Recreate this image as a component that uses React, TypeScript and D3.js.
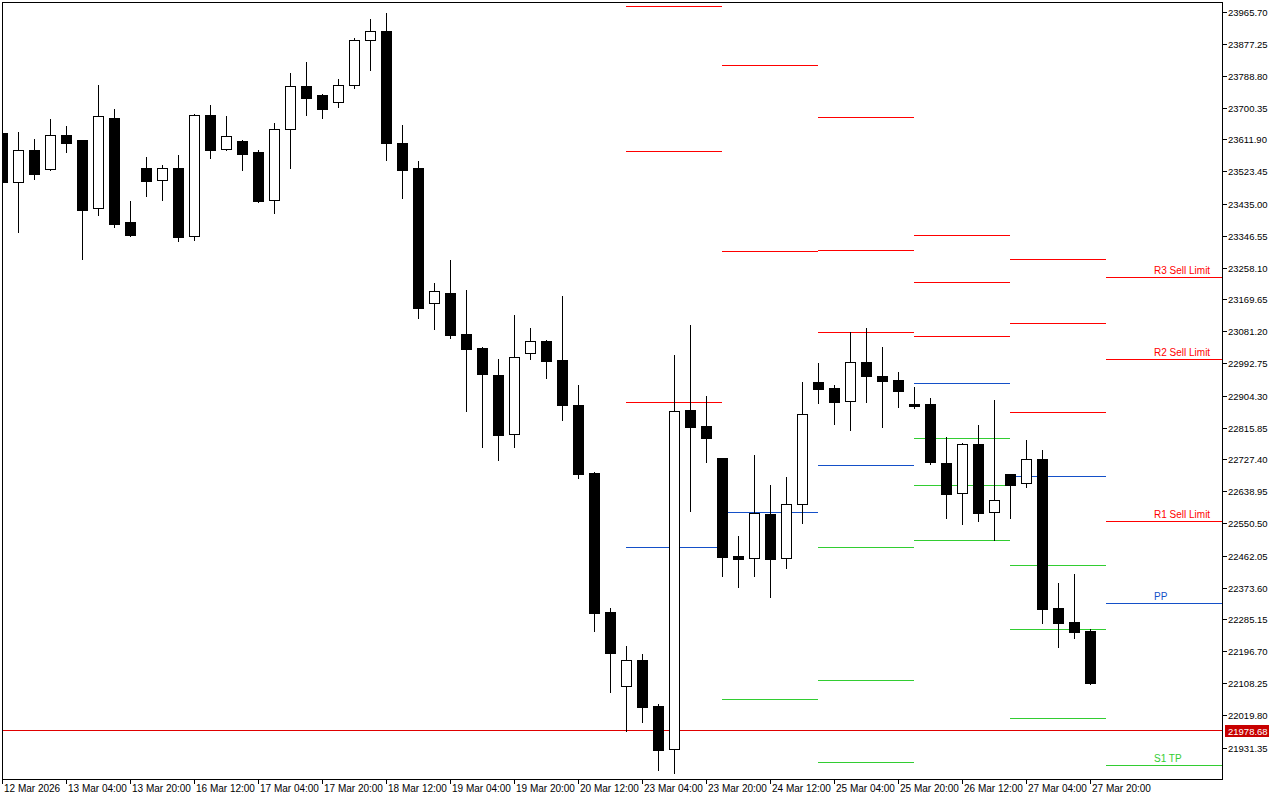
import React from "react";
import * as d3 from "d3";

// ---- data (H4 candles, 12 Mar 2026 12:00 -> 27 Mar 2026 20:00) ----
const opens = [
  23628.5, 23493.1, 23581.5, 23529.0, 23623.0, 23609.2, 23421.2, 23672.7, 23382.5, 23531.8,
  23498.6, 23531.8, 23343.8, 23681.0, 23584.3, 23606.4, 23576.0, 23443.3, 23639.6, 23758.4,
  23733.6, 23714.2, 23761.2, 23885.6, 23910.5, 23603.6, 23534.5, 23158.6, 23186.3, 23073.0,
  23034.3, 22959.6, 22796.6, 23020.4, 23053.6, 23001.1, 22876.7, 22688.8, 22304.6, 22100.0,
  22171.9, 22044.8, 21925.9, 22862.9, 22818.7, 22730.2, 22459.4, 22453.9, 22575.4, 22453.9,
  22603.1, 22940.3, 22923.7, 22887.8, 22995.6, 22956.9, 22945.8, 22879.5, 22879.5, 22716.4,
  22633.5, 22768.9, 22581.0, 22686.0, 22661.1, 22727.4, 22315.6, 22276.9, 22252.1,
];
const highs = [
  23636.8, 23634.0, 23611.9, 23667.2, 23647.9, 23611.0, 23761.2, 23694.9, 23440.6, 23562.2,
  23540.1, 23567.7, 23683.0, 23705.9, 23675.5, 23609.2, 23581.5, 23656.2, 23794.4, 23824.8,
  23736.3, 23777.8, 23891.1, 23943.6, 23960.2, 23650.6, 23551.1, 23213.9, 23277.5, 23194.6,
  23037.0, 23003.9, 23125.5, 23089.5, 23056.4, 23178.0, 22932.0, 22691.5, 22315.6, 22210.6,
  22188.5, 22050.3, 23014.9, 23097.8, 22901.6, 22731.0, 22514.6, 22738.5, 22655.6, 22677.7,
  22940.3, 22992.8, 22932.0, 23078.5, 23089.5, 23037.0, 22967.9, 22926.5, 22896.1, 22788.3,
  22771.7, 22821.4, 22890.5, 22687.0, 22780.0, 22752.3, 22384.7, 22409.6, 22257.6,
];
const lows = [
  23484.8, 23357.6, 23501.4, 23526.3, 23576.0, 23280.3, 23401.9, 23368.7, 23345.0, 23454.4,
  23443.3, 23330.0, 23332.8, 23559.4, 23583.0, 23526.3, 23438.0, 23407.4, 23531.8, 23681.0,
  23670.0, 23700.4, 23752.9, 23802.7, 23553.9, 23448.9, 23117.2, 23086.8, 23061.9, 22860.1,
  22760.6, 22724.7, 22760.6, 23003.9, 22951.3, 22835.3, 22674.9, 22252.1, 22083.4, 21975.7,
  22000.5, 21867.9, 21859.6, 22583.7, 22719.2, 22404.1, 22373.7, 22404.1, 22346.0, 22426.2,
  22550.6, 22882.2, 22824.2, 22807.6, 22885.0, 22815.9, 22871.2, 22868.4, 22713.6, 22564.4,
  22547.8, 22556.1, 22503.6, 22564.4, 22650.1, 22274.2, 22207.9, 22232.7, 22105.5,
];
const closes = [
  23493.1, 23581.5, 23515.2, 23623.0, 23603.6, 23415.7, 23675.5, 23377.0, 23346.6, 23495.9,
  23531.8, 23341.1, 23681.0, 23581.5, 23620.2, 23573.2, 23440.6, 23639.6, 23758.4, 23725.3,
  23694.9, 23761.2, 23888.3, 23910.5, 23600.9, 23526.3, 23144.8, 23191.8, 23070.2, 23031.5,
  22962.4, 22793.8, 23009.4, 23053.6, 22998.3, 22876.7, 22686.0, 22301.8, 22191.2, 22171.9,
  22042.0, 21923.1, 22860.1, 22815.9, 22785.5, 22456.6, 22451.1, 22578.2, 22451.1, 22603.1,
  22851.8, 22920.9, 22885.0, 22995.6, 22956.9, 22943.1, 22915.4, 22873.9, 22719.2, 22630.7,
  22768.9, 22578.2, 22614.1, 22655.6, 22727.4, 22312.9, 22274.2, 22249.3, 22108.3,
];

// time axis labels, one every 4 bars
const timeLabels = [
  "12 Mar 2026", "13 Mar 04:00", "13 Mar 20:00", "16 Mar 12:00", "17 Mar 04:00", "17 Mar 20:00",
  "18 Mar 12:00", "19 Mar 04:00", "19 Mar 20:00", "20 Mar 12:00", "23 Mar 04:00", "23 Mar 20:00",
  "24 Mar 12:00", "25 Mar 04:00", "25 Mar 20:00", "26 Mar 12:00", "27 Mar 04:00", "27 Mar 20:00",
];
const labelEvery = 4;

const priceTicks = [
  "23965.70", "23877.25", "23788.80", "23700.35", "23611.90", "23523.45", "23435.00", "23346.55",
  "23258.10", "23169.65", "23081.20", "22992.75", "22904.30", "22815.85", "22727.40", "22638.95",
  "22550.50", "22462.05", "22373.60", "22285.15", "22196.70", "22108.25", "22019.80", "21931.35",
];

// first bar index of each trading day (20 Mar .. 27 Mar, then next day)
const dayStarts = [33, 39, 45, 51, 57, 63, 69];
const barsPerDay = 6;
const levelTags = ["R3 Sell Limit", "R2 Sell Limit", "R1 Sell Limit", "PP", "S1 TP", "S2 TP", "S3 TP"];
const levelColors = ["#ff0000", "#ff0000", "#ff0000", "#1450c8", "#32cd32", "#32cd32", "#32cd32"];
const markPrice = 21978.68;

const FONT = "'Liberation Sans', Arial, sans-serif";

export default function App() {
  const left = 2, right = 1222, top = 2, bottom = 779;
  const x = d3.scaleLinear().domain([0, 1]).range([left, left + 16]);
  const y = d3.scaleLinear()
    .domain([+priceTicks[priceTicks.length - 1], +priceTicks[0]])
    .range([747.5, 11.5]);
  const py = (v: number) => Math.round(y(v));

  const pivots = dayStarts.slice(1).map((start, k) => {
    const prev = dayStarts[k];
    const idx = d3.range(prev, start);
    const h = d3.max(idx, (i) => highs[i]) as number;
    const l = d3.min(idx, (i) => lows[i]) as number;
    const c = closes[start - 1];
    const pp = (h + l + c) / 3;
    const levels = [h + 2 * (pp - l), pp + (h - l), 2 * pp - l, pp, 2 * pp - h, pp - (h - l), l - 2 * (h - pp)];
    const isLast = k === dayStarts.length - 2;
    return { levels, x0: x(start), x1: isLast ? right : x(start + barsPerDay), isLast };
  });

  const inPlot = (v: number) => py(v) > top + 12 && py(v) < bottom;

  return (
    <div style={{ position: "absolute", left: 0, top: 0 }}>
      <svg width={1280} height={800} style={{ display: "block", background: "#fff" }}>
        <defs>
          <clipPath id="plot">
            <rect x={left} y={top} width={right - left + 1} height={bottom - top + 1} />
          </clipPath>
        </defs>
        <rect x={0} y={0} width={1280} height={800} fill="#fff" />

        <g clipPath="url(#plot)">
          {/* pivot lines */}
          {pivots.map((p, k) => (
            <g key={"pv" + k}>
              {p.levels.filter((v) => py(v) >= top && py(v) <= bottom).map((v) => {
                const j = p.levels.indexOf(v);
                return (
                  <line key={j} x1={p.x0} x2={p.x1} y1={py(v) + 0.5} y2={py(v) + 0.5}
                    stroke={levelColors[j]} strokeWidth={1} shapeRendering="crispEdges" />
                );
              })}
            </g>
          ))}

          {/* horizontal line */}
          <line x1={left} x2={right} y1={py(markPrice) + 0.5} y2={py(markPrice) + 0.5}
            stroke="#e00000" strokeWidth={1} shapeRendering="crispEdges" />

          {/* candles */}
          {opens.map((o, i) => {
            const c = x(i);
            const yo = py(o), yc = py(closes[i]);
            const yh = py(highs[i]), yl = py(lows[i]);
            const bull = closes[i] > o;
            return (
              <g key={"c" + i}>
                <line x1={c + 0.5} x2={c + 0.5} y1={yh} y2={yl + 1} stroke="#000" strokeWidth={1}
                  shapeRendering="crispEdges" />
                {bull ? (
                  <rect x={c - 4.5} y={yc + 0.5} width={10} height={Math.max(1, yo - yc)}
                    fill="#fff" stroke="#000" strokeWidth={1} shapeRendering="crispEdges" />
                ) : (
                  <rect x={c - 5} y={yo} width={11} height={Math.max(2, yc - yo + 1)}
                    fill="#000" shapeRendering="crispEdges" />
                )}
              </g>
            );
          })}
        </g>

        {/* labels of the current day's pivot levels */}
        {pivots.filter((p) => p.isLast).map((p) =>
          p.levels.map((v, j) => inPlot(v) ? (
            <text key={"t" + j} x={1154} y={py(v) - 3} fontFamily={FONT} fontSize={10}
              fill={levelColors[j]}>{levelTags[j]}</text>
          ) : null)
        )}

        {/* frame */}
        <rect x={left + 0.5} y={top + 0.5} width={right - left} height={bottom - top}
          fill="none" stroke="#000" strokeWidth={1} shapeRendering="crispEdges" />

        {/* price axis */}
        {priceTicks.map((t) => {
          const yy = py(+t);
          return (
            <g key={t}>
              <line x1={right} x2={right + 5} y1={yy + 0.5} y2={yy + 0.5} stroke="#000"
                shapeRendering="crispEdges" />
              <text x={right + 6} y={yy + 0.5} dominantBaseline="central" fontFamily={FONT}
                fontSize={9.5} fill="#000">{t}</text>
            </g>
          );
        })}

        {/* current mark price label */}
        <rect x={1225} y={py(markPrice) - 5} width={44} height={12} fill="#c80000" />
        <text x={1228} y={py(markPrice) + 1} dominantBaseline="central" fontFamily={FONT}
          fontSize={9.5} fill="#fff">{markPrice.toFixed(2)}</text>

        {/* time axis */}
        {timeLabels.map((t, k) => {
          const xx = x(k * labelEvery);
          return (
            <g key={t}>
              <line x1={xx + 0.5} x2={xx + 0.5} y1={bottom} y2={bottom + 5} stroke="#000"
                shapeRendering="crispEdges" />
              <text x={xx + 2} y={792} fontFamily={FONT} fontSize={10} fill="#000">{t}</text>
            </g>
          );
        })}
      </svg>
    </div>
  );
}
